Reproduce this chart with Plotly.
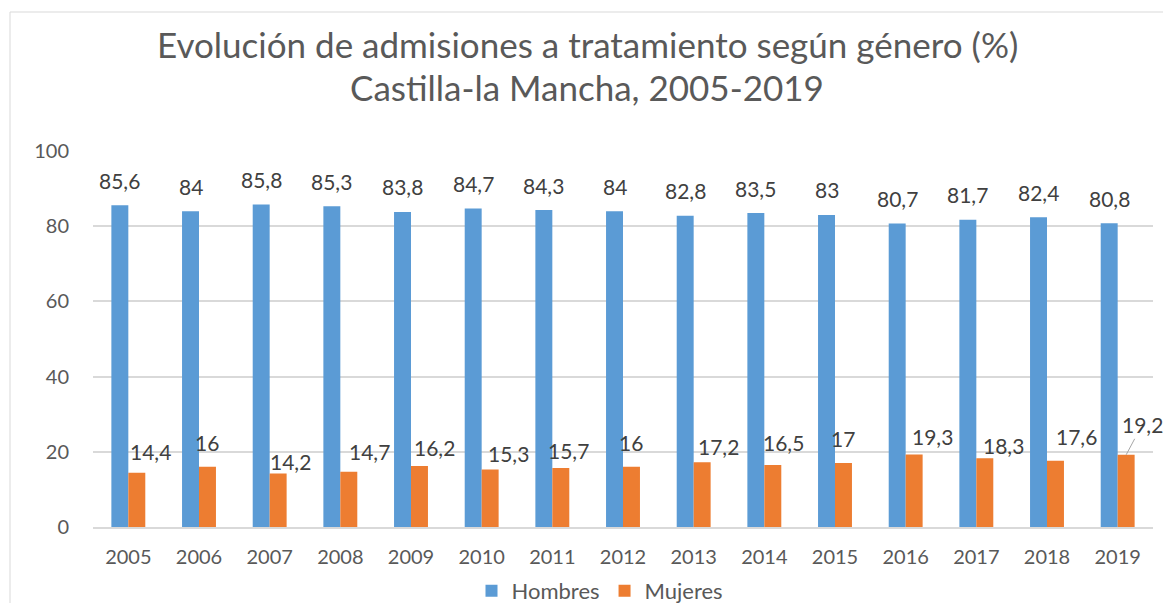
import plotly.graph_objects as go

years = ["2005", "2006", "2007", "2008", "2009", "2010", "2011", "2012",
         "2013", "2014", "2015", "2016", "2017", "2018", "2019"]
hombres = [85.6, 84, 85.8, 85.3, 83.8, 84.7, 84.3, 84, 82.8, 83.5, 83, 80.7, 81.7, 82.4, 80.8]
mujeres = [14.4, 16, 14.2, 14.7, 16.2, 15.3, 15.7, 16, 17.2, 16.5, 17, 19.3, 18.3, 17.6, 19.2]

title_line1 = "Evolución de admisiones a tratamiento según género (%)"
title_line2 = "Castilla-la Mancha, 2005-2019"

# label nudges (pixels) for the manually placed Mujeres labels: (dx, dy)
mujeres_label_nudge = [(14, 21), (0, 24), (12, 12), (21, 20), (15, 19), (18, 16), (8, 17), (0, 24),
                       (16, 16), (11, 22), (0, 25), (18, 18), (19, 13), (21, 24), (16, 30)]

BLUE = "#5B9BD5"
ORANGE = "#ED7D31"
FONT = "Lato"
TXT = "#595959"
LBL = "#404040"

def fmt(v):
    return f"{v:g}".replace(".", ",")

OFF = 8  # page body margin
W, H = 1171 - OFF, 603 - OFF
ml, mr, mt, mb = 93 - OFF, 18, 151 - OFF, 76
pw, ph = W - ml - mr, H - mt - mb
bw = 0.24
half_px = bw * pw / len(years) / 2
idx = list(range(len(years)))

def px_x(x):  # reference page x -> paper
    return (x - OFF - ml) / pw

def px_y(y):  # reference page y -> paper
    return 1 - (y - OFF - mt) / ph

fig = go.Figure()
fig.add_bar(x=idx, y=hombres, name="Hombres", marker_color=BLUE,
            width=bw, offset=-bw, marker_line_width=0)
fig.add_bar(x=idx, y=mujeres, name="Mujeres", marker_color=ORANGE,
            width=bw, offset=0, marker_line_width=0)

annotations = []
for i, v in zip(idx, hombres):
    annotations.append(dict(x=i, y=v, text=fmt(v), showarrow=False, xshift=-half_px,
                            yshift=25, yanchor="middle", xanchor="center",
                            font=dict(family=FONT, size=21, color=LBL)))
for i, v in zip(idx, mujeres):
    dx, dy = mujeres_label_nudge[i]
    if i == len(years) - 1:
        annotations.append(dict(x=i, y=v, text=fmt(v), showarrow=True, arrowhead=0,
                                arrowcolor="#A6A6A6", arrowwidth=1, xshift=half_px,
                                ax=dx, ay=-dy, standoff=0,
                                font=dict(family=FONT, size=21, color=LBL)))
    else:
        annotations.append(dict(x=i, y=v, text=fmt(v), showarrow=False, xshift=half_px + dx,
                                yshift=dy, yanchor="middle", xanchor="center",
                                font=dict(family=FONT, size=21, color=LBL)))

for txt, yc in ((title_line1, 44), (title_line2, 87)):
    annotations.append(dict(xref="paper", yref="paper", x=px_x(587), y=px_y(yc),
                            text=txt, showarrow=False, xanchor="center", yanchor="middle",
                            font=dict(family=FONT, size=35, color=TXT)))

fig.update_layout(
    width=W, height=H,
    margin=dict(l=ml, r=mr, t=mt, b=mb, autoexpand=False),
    paper_bgcolor="white", plot_bgcolor="white",
    barmode="group",
    showlegend=True,
    legend=dict(orientation="h", xanchor="center", x=px_x(600), yanchor="middle",
                y=px_y(591), font=dict(family=FONT, size=22, color=TXT),
                traceorder="normal", bgcolor="rgba(0,0,0,0)"),
    annotations=annotations,
    shapes=[dict(type="rect", xref="paper", yref="paper",
                 x0=px_x(10), x1=1.05, y0=-0.3, y1=px_y(12),
                 line=dict(color="#D9D9D9", width=1), fillcolor="rgba(0,0,0,0)", layer="below")],
    font=dict(family=FONT, color=TXT),
)
fig.update_xaxes(tickmode="array", tickvals=idx, ticktext=years, range=[-0.5, len(years) - 0.5],
                 showgrid=False, showline=True, linecolor="#D9D9D9", automargin=False,
                 linewidth=1.5, ticks="outside", ticklen=11, tickcolor="white", zeroline=False,
                 tickfont=dict(family=FONT, size=20, color=TXT))
fig.update_yaxes(range=[0, 100], dtick=20, showgrid=True, gridcolor="#D9D9D9", gridwidth=1.5,
                 zeroline=False, showline=False, ticks="outside", ticklen=19, tickcolor="white",
                 automargin=False, tickfont=dict(family=FONT, size=20, color=TXT))

fig.write_html("out.html")
